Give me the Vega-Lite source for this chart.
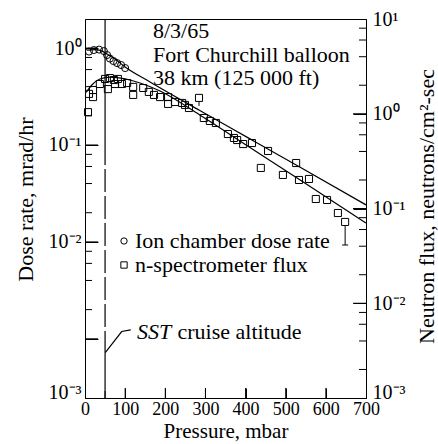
{
  "$schema": "https://vega.github.io/schema/vega-lite/v6.json",
  "width": 281,
  "height": 379,
  "autosize": {"type": "none"},
  "padding": {"left": 85, "top": 19, "right": 72, "bottom": 46},
  "background": "white",
  "config": {
    "font": "Liberation Serif",
    "view": {"stroke": "black", "strokeWidth": 1},
    "axis": {
      "grid": false, "ticks": true, "domainColor": "black", "tickColor": "black", "tickOpacity": 1, "labelColor": "black",
      "titleColor": "black", "labelFont": "Liberation Serif", "titleFont": "Liberation Serif",
      "titleFontWeight": "normal", "titleFontSize": 22, "labelFontSize": 19, "zindex": 0,
      "tickWidth": 1, "domainWidth": 1, "labelOverlap": false, "labelFlush": false, "labelBound": false
    },
    "legend": {
      "orient": "none", "legendX": 28, "legendY": 211, "direction": "vertical", "padding": 0,
      "title": null, "labelFont": "Liberation Serif", "labelFontSize": 22, "labelColor": "black",
      "labelOffset": 0, "labelLimit": 400, "rowPadding": 2, "symbolSize": 40, "symbolStrokeWidth": 1,
      "symbolStrokeColor": "black", "symbolFillColor": "transparent", "labelBaseline": "middle"
    },
    "text": {"font": "Liberation Serif", "color": "black"}
  },
  "datasets": {
    "circles": [
      {"p": 10, "v": 0.92}, {"p": 22, "v": 0.954}, {"p": 35, "v": 0.965}, {"p": 47, "v": 0.931},
      {"p": 55, "v": 0.847}, {"p": 62, "v": 0.779}, {"p": 71, "v": 0.734}, {"p": 80, "v": 0.70},
      {"p": 90, "v": 0.668}, {"p": 100, "v": 0.622}
    ],
    "upper": [
      {"p": 5, "v": 0.954}, {"p": 25, "v": 0.965}, {"p": 40, "v": 0.942}, {"p": 55, "v": 0.867},
      {"p": 75, "v": 0.77}, {"p": 100, "v": 0.637}, {"p": 162, "v": 0.447}, {"p": 286, "v": 0.227},
      {"p": 411, "v": 0.1156}, {"p": 536, "v": 0.0588}, {"p": 700, "v": 0.0241}
    ],
    "vsolid": [
      {"p": 50, "v": 1.995, "v2": 0.1074},
      {"p": 50, "v": 0.00072, "v2": 0.000245}
    ],
    "vdash": [
      {"p": 50, "v": 0.1074, "v2": 0.00072}
    ],
    "leader": [
      {"p": 50.5, "v": 0.000722}, {"p": 91.4, "v": 0.001189}, {"p": 113.9, "v": 0.001238}
    ],
    "notes": [
      {"p": 169.4, "v": 1.268, "t": "8/3/65"},
      {"p": 169.4, "v": 0.717, "t": "Fort Churchill balloon"},
      {"p": 169.4, "v": 0.4155, "t": "38 km (125 000 ft)"}
    ],
    "sst": [{"p": 129.5, "v": 0.001, "t": "SST"}],
    "cruise": [{"p": 230.4, "v": 0.001, "t": "cruise altitude"}],
    "leftMajor": [{"v": 0.001}, {"v": 0.01}, {"v": 0.1}, {"v": 1}],
    "leftMinor": [
      {"v": 0.002}, {"v": 0.004}, {"v": 0.006}, {"v": 0.008},
      {"v": 0.02}, {"v": 0.04}, {"v": 0.06}, {"v": 0.08},
      {"v": 0.2}, {"v": 0.4}, {"v": 0.6}, {"v": 0.8}
    ],
    "rightMajor": [{"v": 0.01}, {"v": 0.1}, {"v": 1}],
    "rightMinor": [
      {"v": 0.002}, {"v": 0.004}, {"v": 0.006}, {"v": 0.008},
      {"v": 0.02}, {"v": 0.04}, {"v": 0.06}, {"v": 0.08},
      {"v": 0.2}, {"v": 0.4}, {"v": 0.6}, {"v": 0.8},
      {"v": 2}, {"v": 4}, {"v": 6}, {"v": 8}
    ],
    "xMajor": [{"p": 100}, {"p": 200}, {"p": 300}, {"p": 400}, {"p": 500}, {"p": 600}],
    "xMinor": [{"p": 50}],
    "squares": [
      {"p": 7.5, "v": 1.04}, {"p": 10, "v": 1.62}, {"p": 20, "v": 1.78}, {"p": 20, "v": 1.50},
      {"p": 37, "v": 2.06}, {"p": 50, "v": 2.33}, {"p": 57, "v": 1.82}, {"p": 62, "v": 2.38},
      {"p": 72, "v": 2.27}, {"p": 82, "v": 2.33}, {"p": 75, "v": 2.06}, {"p": 92, "v": 2.06},
      {"p": 105, "v": 2.11}, {"p": 120, "v": 1.92}, {"p": 120, "v": 1.58}, {"p": 145, "v": 1.87},
      {"p": 159, "v": 1.70}, {"p": 172, "v": 1.58}, {"p": 187, "v": 1.50}, {"p": 207, "v": 1.50},
      {"p": 207, "v": 1.27}, {"p": 224, "v": 1.33}, {"p": 242, "v": 1.30}, {"p": 249, "v": 1.24},
      {"p": 259, "v": 1.15}, {"p": 284, "v": 1.47}, {"p": 296, "v": 0.902}, {"p": 311, "v": 0.839},
      {"p": 326, "v": 0.799}, {"p": 356, "v": 0.611}, {"p": 371, "v": 0.555}, {"p": 379, "v": 0.528},
      {"p": 394, "v": 0.479}, {"p": 416, "v": 0.491}, {"p": 438, "v": 0.268}, {"p": 456, "v": 0.405},
      {"p": 493, "v": 0.226}, {"p": 526, "v": 0.302}, {"p": 533, "v": 0.200}, {"p": 558, "v": 0.205},
      {"p": 575, "v": 0.126}, {"p": 603, "v": 0.123}, {"p": 630, "v": 0.0896}, {"p": 648, "v": 0.0721}
    ],
    "lower": [
      {"p": 3, "v": 1.68}, {"p": 17, "v": 2.01}, {"p": 37, "v": 2.33}, {"p": 62, "v": 2.44},
      {"p": 100, "v": 2.33}, {"p": 137, "v": 2.11}, {"p": 187, "v": 1.74}, {"p": 286, "v": 0.97},
      {"p": 411, "v": 0.44}, {"p": 536, "v": 0.20}, {"p": 700, "v": 0.0703}
    ],
    "errs": [
      {"p": 284, "v": 1.347, "v2": 1.21},
      {"p": 648, "v": 0.0662, "v2": 0.0412}
    ],
    "caps": [{"p": 648, "v": 0.0412}]
  },
  "layer": [
    {
      "layer": [
        {
          "data": {"name": "circles"},
          "mark": {"type": "point", "filled": false, "color": "black", "size": 50, "strokeWidth": 1, "opacity": 1},
          "encoding": {
            "x": {
              "field": "p", "type": "quantitative", "title": "Pressure, mbar",
              "scale": {"domain": [0, 700], "nice": false, "zero": false},
              "axis": {
                "orient": "bottom", "values": [0, 100, 200, 300, 400, 500, 600, 700], "format": "d",
                "ticks": true, "tickSize": -10, "labelPadding": 12, "labelFontSize": 18,
                "titleFontSize": 21, "titleX": 140.5, "titleY": 39, "titleBaseline": "alphabetic", "titleAlign": "center"
              }
            },
            "y": {
              "field": "v", "type": "quantitative", "title": "Dose rate, mrad/hr",
              "scale": {"type": "log", "domain": [0.000245, 1.995], "nice": false},
              "axis": {
                "orient": "left",
                "values": [0.000245, 0.001, 0.01, 0.1, 1],
                "labelExpr": "datum.value < 0.0005 ? '10⁻³' : datum.value == 1 ? '10⁰' : datum.value == 0.1 ? '10⁻¹' : datum.value == 0.01 ? '10⁻²' : ''",
                "labelBaseline": {"condition": {"test": "datum.value < 0.0005", "value": "alphabetic"}, "value": "middle"},
                "ticks": true, "tickSize": -13, "labelPadding": 17, "labelFontSize": 20,
                "titleX": -53, "titleY": 180, "titleAngle": 270, "titleBaseline": "alphabetic", "titleAlign": "center"
              }
            },
            "shape": {
              "datum": "Ion chamber dose rate",
              "scale": {"domain": ["Ion chamber dose rate", "n-spectrometer flux"], "range": ["circle", "square"]},
              "legend": {"orient": "none", "legendX": 28, "legendY": 211, "title": null}
            }
          }
        },
        {
          "data": {"name": "upper"},
          "mark": {"type": "line", "color": "black", "strokeWidth": 1.2, "interpolate": "monotone"},
          "encoding": {
            "x": {"field": "p", "type": "quantitative", "title": "Pressure, mbar"},
            "y": {"field": "v", "type": "quantitative", "title": "Dose rate, mrad/hr"}
          }
        },
        {
          "data": {"name": "leftMajor"},
          "mark": {"type": "rule", "color": "black", "strokeWidth": 1},
          "encoding": {
            "x": {"datum": 0, "type": "quantitative", "title": "Pressure, mbar"},
            "x2": {"datum": 32.4},
            "y": {"field": "v", "type": "quantitative", "title": "Dose rate, mrad/hr"}
          }
        },
        {
          "data": {"name": "leftMinor"},
          "mark": {"type": "rule", "color": "black", "strokeWidth": 1},
          "encoding": {
            "x": {"datum": 0, "type": "quantitative", "title": "Pressure, mbar"},
            "x2": {"datum": 17.4},
            "y": {"field": "v", "type": "quantitative", "title": "Dose rate, mrad/hr"}
          }
        },
        {
          "data": {"name": "xMajor"},
          "mark": {"type": "rule", "color": "black", "strokeWidth": 1},
          "encoding": {
            "x": {"field": "p", "type": "quantitative", "title": "Pressure, mbar"},
            "y": {"datum": 0.000245, "type": "quantitative", "title": "Dose rate, mrad/hr"},
            "y2": {"datum": 0.000311}
          }
        },
        {
          "data": {"name": "xMinor"},
          "mark": {"type": "rule", "color": "black", "strokeWidth": 1},
          "encoding": {
            "x": {"field": "p", "type": "quantitative", "title": "Pressure, mbar"},
            "y": {"datum": 0.000245, "type": "quantitative", "title": "Dose rate, mrad/hr"},
            "y2": {"datum": 0.000289}
          }
        },
        {
          "data": {"name": "vsolid"},
          "mark": {"type": "rule", "color": "black", "strokeWidth": 1.2},
          "encoding": {
            "x": {"field": "p", "type": "quantitative", "title": "Pressure, mbar"},
            "y": {"field": "v", "type": "quantitative", "title": "Dose rate, mrad/hr"},
            "y2": {"field": "v2"}
          }
        },
        {
          "data": {"name": "vdash"},
          "mark": {"type": "rule", "color": "black", "strokeWidth": 1.2, "strokeDash": [23, 4]},
          "encoding": {
            "x": {"field": "p", "type": "quantitative", "title": "Pressure, mbar"},
            "y": {"field": "v", "type": "quantitative", "title": "Dose rate, mrad/hr"},
            "y2": {"field": "v2"}
          }
        },
        {
          "data": {"name": "leader"},
          "mark": {"type": "line", "color": "black", "strokeWidth": 1.2},
          "encoding": {
            "x": {"field": "p", "type": "quantitative", "title": "Pressure, mbar"},
            "y": {"field": "v", "type": "quantitative", "title": "Dose rate, mrad/hr"}
          }
        },
        {
          "data": {"name": "notes"},
          "mark": {"type": "text", "align": "left", "baseline": "alphabetic", "fontSize": 22, "color": "black"},
          "encoding": {
            "x": {"field": "p", "type": "quantitative", "title": "Pressure, mbar"},
            "y": {"field": "v", "type": "quantitative", "title": "Dose rate, mrad/hr"},
            "text": {"field": "t"}
          }
        },
        {
          "data": {"name": "sst"},
          "mark": {"type": "text", "align": "left", "baseline": "alphabetic", "fontSize": 22, "fontStyle": "italic", "color": "black"},
          "encoding": {
            "x": {"field": "p", "type": "quantitative", "title": "Pressure, mbar"},
            "y": {"field": "v", "type": "quantitative", "title": "Dose rate, mrad/hr"},
            "text": {"field": "t"}
          }
        },
        {
          "data": {"name": "cruise"},
          "mark": {"type": "text", "align": "left", "baseline": "alphabetic", "fontSize": 22, "color": "black"},
          "encoding": {
            "x": {"field": "p", "type": "quantitative", "title": "Pressure, mbar"},
            "y": {"field": "v", "type": "quantitative", "title": "Dose rate, mrad/hr"},
            "text": {"field": "t"}
          }
        }
      ]
    },
    {
      "layer": [
        {
          "data": {"name": "squares"},
          "mark": {"type": "point", "filled": false, "color": "black", "size": 50, "strokeWidth": 1, "opacity": 1},
          "encoding": {
            "x": {"field": "p", "type": "quantitative", "title": "Pressure, mbar"},
            "y": {
              "field": "v", "type": "quantitative", "title": "Neutron flux, neutrons/cm²-sec",
              "scale": {"type": "log", "domain": [0.001, 10], "nice": false},
              "axis": {
                "orient": "right",
                "values": [0.001, 0.01, 0.1, 1, 10],
                "labelExpr": "datum.value == 10 ? '10¹' : datum.value == 1 ? '10⁰' : datum.value == 0.1 ? '10⁻¹' : datum.value == 0.01 ? '10⁻²' : '10⁻³'",
                "labelBaseline": {"condition": {"test": "datum.value == 0.001", "value": "alphabetic"}, "value": "middle"},
                "ticks": true, "tickSize": -13, "labelPadding": 19, "labelFontSize": 20, "labelAlign": "left",
                "titleX": 67, "titleY": 187, "titleAngle": 270, "titleBaseline": "alphabetic", "titleAlign": "center"
              }
            },
            "shape": {"datum": "n-spectrometer flux"}
          }
        },
        {
          "data": {"name": "lower"},
          "mark": {"type": "line", "color": "black", "strokeWidth": 1.2, "interpolate": "monotone"},
          "encoding": {
            "x": {"field": "p", "type": "quantitative", "title": "Pressure, mbar"},
            "y": {"field": "v", "type": "quantitative", "title": "Neutron flux, neutrons/cm²-sec"}
          }
        },
        {
          "data": {"name": "rightMajor"},
          "mark": {"type": "rule", "color": "black", "strokeWidth": 1},
          "encoding": {
            "x": {"datum": 700, "type": "quantitative", "title": "Pressure, mbar"},
            "x2": {"datum": 667.6},
            "y": {"field": "v", "type": "quantitative", "title": "Neutron flux, neutrons/cm²-sec"}
          }
        },
        {
          "data": {"name": "rightMinor"},
          "mark": {"type": "rule", "color": "black", "strokeWidth": 1},
          "encoding": {
            "x": {"datum": 700, "type": "quantitative", "title": "Pressure, mbar"},
            "x2": {"datum": 682.6},
            "y": {"field": "v", "type": "quantitative", "title": "Neutron flux, neutrons/cm²-sec"}
          }
        },
        {
          "data": {"name": "errs"},
          "mark": {"type": "rule", "color": "black", "strokeWidth": 1},
          "encoding": {
            "x": {"field": "p", "type": "quantitative", "title": "Pressure, mbar"},
            "y": {"field": "v", "type": "quantitative", "title": "Neutron flux, neutrons/cm²-sec"},
            "y2": {"field": "v2"}
          }
        },
        {
          "data": {"name": "caps"},
          "mark": {"type": "tick", "orient": "horizontal", "color": "black", "size": 6, "thickness": 1, "opacity": 1},
          "encoding": {
            "x": {"field": "p", "type": "quantitative", "title": "Pressure, mbar"},
            "y": {"field": "v", "type": "quantitative", "title": "Neutron flux, neutrons/cm²-sec"}
          }
        }
      ]
    }
  ],
  "resolve": {"scale": {"y": "independent"}}
}
